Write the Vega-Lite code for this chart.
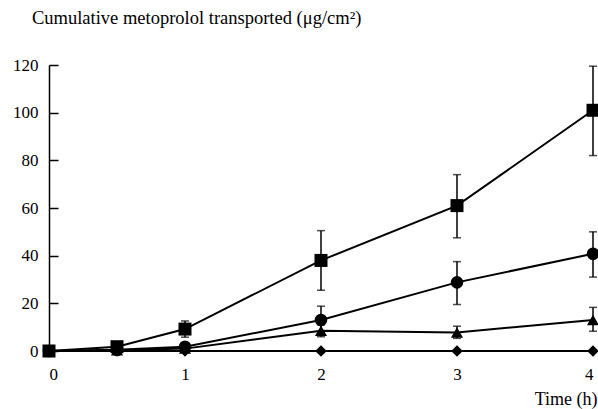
{
  "$schema": "https://vega.github.io/schema/vega-lite/v6.json",
  "width": 544,
  "height": 286,
  "autosize": {"type": "none"},
  "padding": {"left": 49, "top": 65, "right": 5, "bottom": 58},
  "background": "white",
  "config": {
    "view": {"stroke": null},
    "font": "Liberation Serif",
    "axis": {"labelFont": "Liberation Serif", "titleFont": "Liberation Serif", "labelColor": "black", "titleColor": "black", "grid": false, "labelFontSize": 17, "titleFontSize": 18, "titleFontWeight": "normal", "domainColor": "black", "tickColor": "black"}
  },
  "title": {"text": "Cumulative metoprolol transported (μg/cm²)", "anchor": "start", "frame": "group", "dx": -17, "offset": 29, "font": "Liberation Serif", "fontSize": 18.5, "fontWeight": "normal", "color": "black"},
  "data": {"values": [
    {"s": "D", "t": 0, "y": 0, "lo": 0, "hi": 0},
    {"s": "D", "t": 0.5, "y": 0, "lo": 0, "hi": 0},
    {"s": "D", "t": 1, "y": 0, "lo": 0, "hi": 0},
    {"s": "D", "t": 2, "y": 0, "lo": 0, "hi": 0},
    {"s": "D", "t": 3, "y": 0, "lo": 0, "hi": 0},
    {"s": "D", "t": 4, "y": 0, "lo": 0, "hi": 0},
    {"s": "T", "t": 0, "y": 0, "lo": 0, "hi": 0},
    {"s": "T", "t": 0.5, "y": 0.3, "lo": 0.3, "hi": 0.3},
    {"s": "T", "t": 1, "y": 1, "lo": 1, "hi": 1},
    {"s": "T", "t": 2, "y": 8.5, "lo": 6, "hi": 11},
    {"s": "T", "t": 3, "y": 7.8, "lo": 5.3, "hi": 10.4},
    {"s": "T", "t": 4, "y": 13, "lo": 8.3, "hi": 18.3},
    {"s": "C", "t": 0, "y": 0, "lo": 0, "hi": 0},
    {"s": "C", "t": 0.5, "y": 0.5, "lo": 0.5, "hi": 0.5},
    {"s": "C", "t": 1, "y": 1.8, "lo": 1.8, "hi": 1.8},
    {"s": "C", "t": 2, "y": 13, "lo": 7, "hi": 18.8},
    {"s": "C", "t": 3, "y": 28.8, "lo": 19.5, "hi": 37.5},
    {"s": "C", "t": 4, "y": 40.8, "lo": 31, "hi": 50},
    {"s": "S", "t": 0, "y": 0, "lo": 0, "hi": 0},
    {"s": "S", "t": 0.5, "y": 1.8, "lo": 1.8, "hi": 1.8},
    {"s": "S", "t": 1, "y": 9.2, "lo": 5.8, "hi": 12.6},
    {"s": "S", "t": 2, "y": 38, "lo": 25.5, "hi": 50.5},
    {"s": "S", "t": 3, "y": 61, "lo": 47.5, "hi": 74},
    {"s": "S", "t": 4, "y": 101, "lo": 82, "hi": 119.5}
  ]},
  "encoding": {
    "x": {"field": "t", "type": "quantitative", "scale": {"domain": [0, 4], "nice": false},
      "axis": {"values": [0, 1, 2, 3, 4], "format": "d", "domain": false, "ticks": false, "labelPadding": 15, "title": "Time (h)", "titleAnchor": "end", "titleAlign": "right", "titlePadding": 8, "titleX": 548}},
    "y": {"field": "y", "type": "quantitative", "scale": {"domain": [0, 120], "nice": false},
      "axis": {"values": [0, 20, 40, 60, 80, 100, 120], "title": null, "tickSize": -9, "tickWidth": 1.5, "domainWidth": 1.5, "labelPadding": 20, "labelOverlap": false}}
  },
  "layer": [
    {"mark": {"type": "line", "color": "black", "strokeWidth": 2}, "encoding": {"detail": {"field": "s"}}},
    {"mark": {"type": "rule", "color": "black", "strokeWidth": 1.5}, "encoding": {"y": {"field": "lo", "type": "quantitative"}, "y2": {"field": "hi"}}},
    {"mark": {"type": "tick", "orient": "horizontal", "color": "black", "size": 8, "thickness": 1.5}, "encoding": {"y": {"field": "lo", "type": "quantitative"}}},
    {"mark": {"type": "tick", "orient": "horizontal", "color": "black", "size": 8, "thickness": 1.5}, "encoding": {"y": {"field": "hi", "type": "quantitative"}}},
    {"mark": {"type": "point", "filled": true, "color": "black", "opacity": 1},
      "encoding": {
        "shape": {"field": "s", "type": "nominal", "scale": {"domain": ["S", "C", "T", "D"], "range": ["square", "circle", "triangle-up", "diamond"]}, "legend": null},
        "size": {"field": "s", "type": "nominal", "scale": {"domain": ["S", "C", "T", "D"], "range": [169, 135, 100, 110]}, "legend": null}
      }}
  ]
}
